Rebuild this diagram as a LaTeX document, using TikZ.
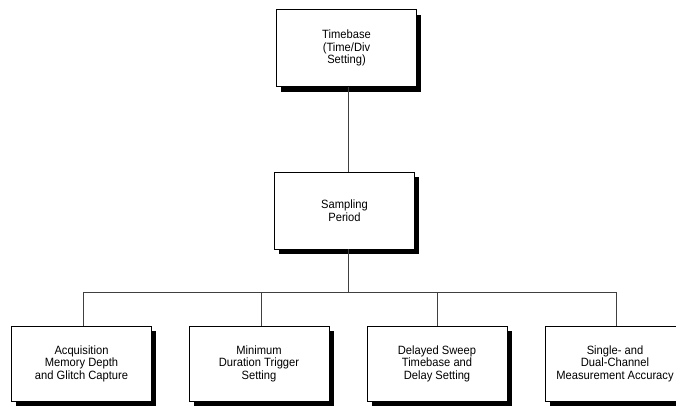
\documentclass[tikz,border=0pt]{standalone}
\usepackage{fontspec}
\setmainfont{Liberation Sans}[FakeStretch=0.93]
\usetikzlibrary{shadows}

\tikzset{
  blockbox/.style={rectangle, draw=black, line width=0.8pt, fill=white,
    minimum width=140pt, minimum height=77pt, align=center,
    font=\fontsize{12}{12.6}\selectfont,
    drop shadow={shadow xshift=4.5pt, shadow yshift=-5pt, fill=black, opacity=1}},
  wire/.style={draw=black!75, line width=0.8pt}
}

\begin{document}
\begin{tikzpicture}[x=1pt,y=-1pt]
      \useasboundingbox (0,0) rectangle (676,407);

      % Nodes
      \node (timebase) at (346.5,48) [blockbox] {Timebase\\(Time/Div\\Setting)};
      \node (sampling) at (344.5,210.5) [blockbox] {Sampling\\Period};

      \node (acq) at (81.5,363.5) [blockbox, minimum height=75pt] {Acquisition\\Memory Depth\\and Glitch Capture};
      \node (mindur) at (259,363.5) [blockbox, minimum height=75pt] {Minimum\\Duration Trigger\\Setting};
      \node (delayed) at (437,363.5) [blockbox, minimum height=75pt] {Delayed Sweep\\Timebase and\\Delay Setting};
      \node (accuracy) at (615,363.5) [blockbox, minimum height=75pt] {Single- and\\Dual-Channel\\Measurement Accuracy};

      \coordinate (bus) at (348,292);

      % Edges
      \draw[wire] (timebase.south -| bus) -- (sampling.north -| bus);
      \draw[wire] (sampling.south -| bus) -- (bus);
      \draw[wire] (bus) -| (acq.north -| 83,0);
      \draw[wire] (bus) -| (mindur.north -| 261,0);
      \draw[wire] (bus) -| (delayed.north);
      \draw[wire] (bus) -| (accuracy.north -| 616,0);
    \end{tikzpicture}
\end{document}
